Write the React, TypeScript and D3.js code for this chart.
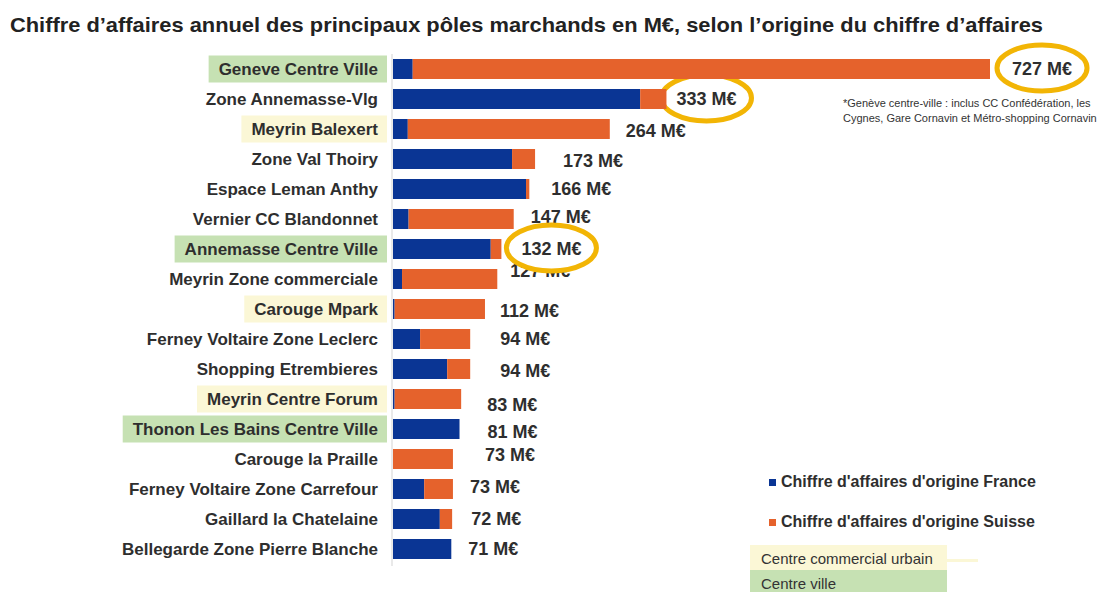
import React from 'react';
import * as d3 from 'd3';

const title = 'Chiffre d’affaires annuel des principaux pôles marchands en M€, selon l’origine du chiffre d’affaires';

const categories = [
  'Geneve Centre Ville',
  'Zone Annemasse-Vlg',
  'Meyrin Balexert',
  'Zone Val Thoiry',
  'Espace Leman Anthy',
  'Vernier CC Blandonnet',
  'Annemasse Centre Ville',
  'Meyrin Zone commerciale',
  'Carouge Mpark',
  'Ferney Voltaire Zone Leclerc',
  'Shopping Etrembieres',
  'Meyrin Centre Forum',
  'Thonon Les Bains Centre Ville',
  'Carouge la Praille',
  'Ferney Voltaire Zone Carrefour',
  'Gaillard la Chatelaine',
  'Bellegarde Zone Pierre Blanche',
];

// Chiffre d'affaires d'origine France (M€)
const franceValues = [24, 301, 18, 145, 162, 19, 119, 11, 2, 33, 66, 2, 81, 0, 38, 57, 71];
// Chiffre d'affaires d'origine Suisse (M€)
const suisseValues = [703, 32, 246, 28, 4, 128, 13, 116, 110, 61, 28, 81, 0, 73, 35, 15, 0];
// Total labels (M€)
const totalValues = [727, 333, 264, 173, 166, 147, 132, 127, 112, 94, 94, 83, 81, 73, 73, 72, 71];

// pole type: 'cv' = Centre ville, 'ccu' = Centre commercial urbain
const poleTypes = ['cv', '', 'ccu', '', '', '', 'cv', '', 'ccu', '', '', 'ccu', 'cv', '', '', '', ''];
const circledCategories = ['Geneve Centre Ville', 'Zone Annemasse-Vlg', 'Annemasse Centre Ville'];

const seriesNames = ["Chiffre d'affaires d'origine France", "Chiffre d'affaires d'origine Suisse"];
const typeNames = ['Centre commercial urbain', 'Centre ville'];
const footnoteLines = [
  '*Genève centre-ville : inclus CC Confédération, les',
  'Cygnes, Gare Cornavin et Métro-shopping Cornavin',
];

const BLUE = '#0a3594';
const ORANGE = '#e5622c';
const GREEN = '#c6e1b3';
const YELLOW = '#fbf7d6';
const GOLD = '#f2b505';
const TEXT = '#2e2e2e';
const FONT = "'Liberation Sans', Arial, sans-serif";

// label layout nudges (px) relative to bar end / row centre
const labelNudge: [number, number][] = [
  [22, 0], [10, 0], [16, 2], [28, 2], [22, 0], [17, -2], [20, 0], [13, -8], [15, 2],
  [30, 0], [30, 2], [26, 6], [28, 3], [32, -4], [17, -2], [19, 0], [17, 0],
];

function measure(text: string, font: string): number {
  const c = document.createElement('canvas').getContext('2d');
  if (!c) return text.length * 8;
  c.font = font;
  return c.measureText(text).width;
}

export default function App() {
  const W = 1108;
  const H = 592;
  const x = d3.scaleLinear().domain([0, 727]).range([393, 990]);
  const y = d3.scaleBand<string>().domain(categories).range([54, 564]).paddingInner(1 / 3).paddingOuter(1 / 6);
  const bw = y.bandwidth();
  const labelRight = 378;
  const catFont = `bold 17px ${FONT}`;
  const valFont = `bold 18px ${FONT}`;
  const circledIdx = circledCategories.map((c) => categories.indexOf(c));

  const valueLabel = (c: string, i: number) => {
    const end = x(franceValues[i] + suisseValues[i]);
    const [dx, dy] = labelNudge[i];
    return (
      <text key={'v' + i} x={end + dx} y={(y(c) as number) + bw / 2 + dy} dy="0.36em"
        fontSize={18} fontWeight="bold" fill={TEXT}>
        {`${totalValues[i]} M€`}
      </text>
    );
  };

  return (
    <svg width={W} height={H} style={{ position: 'absolute', left: 0, top: 0, background: '#fff' }} fontFamily={FONT}>
      <text x={10} y={32} fontSize={21} fontWeight="bold" fill="#222" textLength={1033} lengthAdjust="spacingAndGlyphs">
        {title}
      </text>

      {/* category highlight boxes */}
      {categories.map((c, i) => {
        const t = poleTypes[i];
        if (!t) return null;
        const w = measure(c, catFont);
        const cy = (y(c) as number) + bw / 2;
        return (
          <rect key={'h' + i} x={labelRight - w - 10} y={cy - 13.5} width={w + 9 + 10} height={27}
            fill={t === 'cv' ? GREEN : YELLOW} />
        );
      })}

      {categories.map((c, i) => (
        <text key={'c' + i} x={labelRight} y={(y(c) as number) + bw / 2} dy="0.36em" textAnchor="end"
          fontSize={17} fontWeight="bold" fill={TEXT}>
          {c}
        </text>
      ))}

      {/* plain value labels (under the highlight ellipses) */}
      {categories.map((c, i) => (circledIdx.includes(i) ? null : valueLabel(c, i)))}

      {circledIdx.map((i) => {
        const c = categories[i];
        const end = x(franceValues[i] + suisseValues[i]);
        const [dx, dy] = labelNudge[i];
        const w = measure(`${totalValues[i]} M€`, valFont);
        return (
          <ellipse key={'e' + i} cx={end + dx + w / 2} cy={(y(c) as number) + bw / 2 + dy - 1}
            rx={w / 2 + 15} ry={23} fill="#fff" stroke={GOLD} strokeWidth={5} />
        );
      })}

      <line x1={392} x2={392} y1={54} y2={566} stroke="#e2e2e2" strokeWidth={1.5} />

      {categories.map((c, i) => {
        const yy = y(c) as number;
        return (
          <g key={'b' + i}>
            <rect x={x(0)} y={yy} width={x(franceValues[i]) - x(0)} height={bw} fill={BLUE} />
            <rect x={x(franceValues[i])} y={yy} width={x(franceValues[i] + suisseValues[i]) - x(franceValues[i])}
              height={bw} fill={ORANGE} />
          </g>
        );
      })}

      {circledIdx.map((i) => valueLabel(categories[i], i))}

      {footnoteLines.map((l, i) => (
        <text key={'f' + i} x={843} y={107 + i * 15} fontSize={11} fill="#333">{l}</text>
      ))}

      {seriesNames.map((s, i) => (
        <g key={'l' + i}>
          <rect x={769} y={479 + i * 40} width={7} height={7} fill={i === 0 ? BLUE : ORANGE} />
          <text x={781} y={487 + i * 40} fontSize={16} fontWeight="bold" fill={TEXT}>{s}</text>
        </g>
      ))}

      <rect x={940} y={559} width={38} height={3} fill={YELLOW} />
      {typeNames.map((s, i) => (
        <g key={'t' + i}>
          <rect x={750} y={545 + i * 25} width={197} height={25} fill={i === 0 ? YELLOW : GREEN} />
          <text x={761} y={564 + i * 25} fontSize={15} fill="#333">{s}</text>
        </g>
      ))}
    </svg>
  );
}
